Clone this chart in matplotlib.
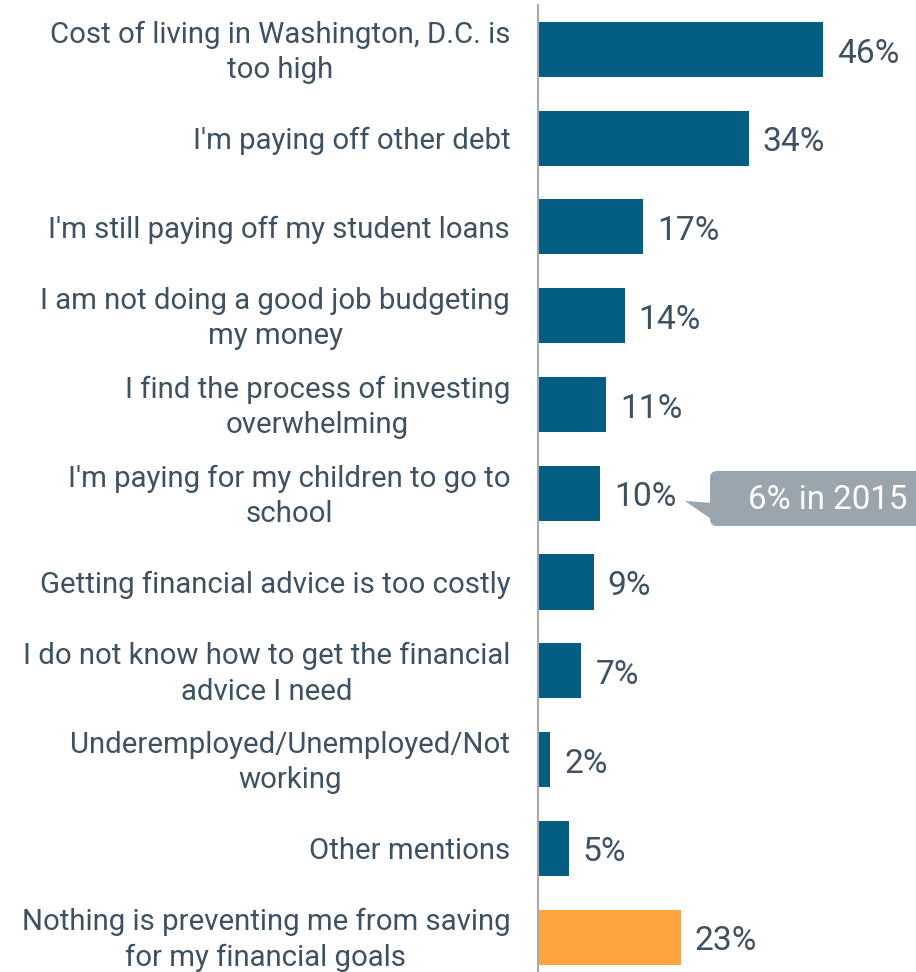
import matplotlib.pyplot as plt
import matplotlib.transforms as mtransforms
import numpy as np
from matplotlib.patches import FancyBboxPatch, Polygon

plt.rcParams['font.family'] = ['Roboto', 'DejaVu Sans']

labels = [
    "Cost of living in Washington, D.C. is\ntoo high",
    "I'm paying off other debt",
    "I'm still paying off my student loans",
    "I am not doing a good job budgeting\nmy money",
    "I find the process of investing\noverwhelming",
    "I'm paying for my children to go to\nschool",
    "Getting financial advice is too costly",
    "I do not know how to get the financial\nadvice I need",
    "Underemployed/Unemployed/Not\nworking",
    "Other mentions",
    "Nothing is preventing me from saving\nfor my financial goals",
]
values = [46, 34, 17, 14, 11, 10, 9, 7, 2, 5, 23]
callout_text = "6% in 2015"

TEAL = "#035e82"
ORANGE = "#ffa440"
TEXT = "#3d5162"
CALLOUT = "#9aa5ae"

W, H = 916, 972
fig = plt.figure(figsize=(W / 100, H / 100), dpi=100)
ax = fig.add_axes([538 / W, 0, 1 - 538 / W, 1 - 5 / H])

y = np.arange(len(values))
colors = [TEAL] * (len(values) - 1) + [ORANGE]
ax.barh(y, values, height=0.62, color=colors)

ax.set_xlim(0, (W - 538) / (285 / 46))
ax.set_ylim(10.394, -0.501)

for s in ["top", "right", "bottom"]:
    ax.spines[s].set_visible(False)
ax.spines["left"].set_color("#aaaaaa")
ax.spines["left"].set_linewidth(1.5)
ax.set_xticks([])
ax.set_yticks(y)
ax.set_yticklabels(labels, fontsize=21.2, color=TEXT, ha="right", va="center",
                   multialignment="center", linespacing=1.34)
ax.tick_params(axis="y", length=0, pad=20)
# nudge the category labels down a little
shift = mtransforms.ScaledTranslation(0, -0.03, fig.dpi_scale_trans)
for lab in ax.get_yticklabels():
    lab.set_transform(lab.get_transform() + shift)

for yi, v in zip(y, values):
    ax.annotate(f"{v}%", (v, yi), xytext=(10, -3), textcoords="offset points",
                va="center", ha="left", fontsize=24.2, color=TEXT)

# callout next to the children/school bar
tr = fig.dpi_scale_trans
def px(x, yy):
    return (x / 100, (H - yy) / 100)

box = FancyBboxPatch(px(710, 526), 2.3, 0.55,
                     boxstyle="round,pad=0,rounding_size=0.07",
                     transform=tr, facecolor=CALLOUT, edgecolor="none")
fig.patches.append(box)
tip = Polygon([px(685, 501), px(714, 503), px(714, 521)], closed=True,
              transform=tr, facecolor=CALLOUT, edgecolor="none")
fig.patches.append(tip)
fig.text(748 / W, 1 - 500 / H, callout_text, color="white", fontsize=23.8,
         va="center", ha="left")

fig.savefig("out.png", dpi=100)
